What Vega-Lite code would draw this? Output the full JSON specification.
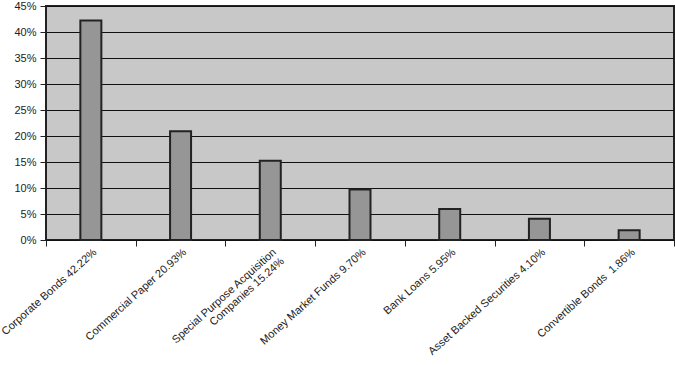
{
  "$schema": "https://vega.github.io/schema/vega-lite/v6.json",
  "width": 628,
  "height": 234,
  "autosize": {"type": "none"},
  "padding": {"left": 46, "top": 6, "right": 1, "bottom": 125},
  "background": "white",
  "config": {
    "view": {"fill": "#C8C8C8", "stroke": "#222222", "strokeWidth": 2},
    "axis": {"labelFont": "Liberation Sans", "labelFontSize": 11, "labelColor": "#222222", "domainColor": "#222222", "tickColor": "#222222"}
  },
  "data": {
    "values": [
      {"label": "Corporate Bonds 42.22%", "value": 0.4222},
      {"label": "Commercial Paper 20.93%", "value": 0.2093},
      {"label": "Special Purpose Acquisition|Companies 15.24%", "value": 0.1524},
      {"label": "Money Market Funds 9.70%", "value": 0.097},
      {"label": "Bank Loans 5.95%", "value": 0.0595},
      {"label": "Asset Backed Securities 4.10%", "value": 0.041},
      {"label": "Convertible Bonds\u00a0 1.86%", "value": 0.0186}
    ]
  },
  "mark": {"type": "bar", "fill": "#969696", "stroke": "#222222", "strokeWidth": 2, "width": {"band": 0.234}},
  "encoding": {
    "x": {
      "field": "label", "type": "nominal", "sort": null,
      "scale": {"paddingInner": 0, "paddingOuter": 0},
      "axis": {"title": null, "labelAngle": -42, "labelFontSize": 11, "labelLineHeight": 12, "labelExpr": "split(datum.label, '|')", "tickBand": "extent", "tickSize": 6, "domain": false, "labelPadding": 0, "labelOverlap": false}
    },
    "y": {
      "field": "value", "type": "quantitative",
      "scale": {"domain": [0, 0.45], "nice": false},
      "axis": {"title": null, "format": ".0%", "values": [0, 0.05, 0.1, 0.15, 0.2, 0.25, 0.3, 0.35, 0.4, 0.45], "labelOverlap": false, "grid": true, "gridColor": "#111111", "gridOpacity": 1, "gridWidth": 1, "tickSize": 6, "domain": false, "labelPadding": 4}
    }
  }
}
